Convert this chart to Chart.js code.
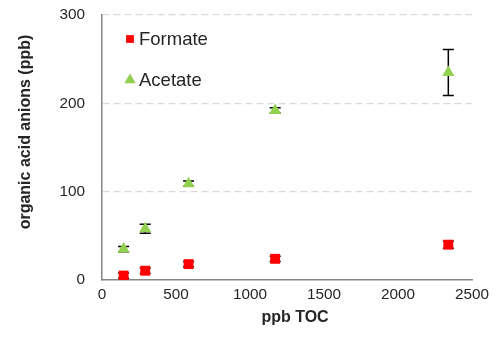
<!DOCTYPE html>
<html>
<head>
    <title>Organic acid anions vs TOC</title>
    <style>
        body {
            margin: 0;
            background: #fff;
        }
        #anionChart {
            display: block;
        }
    </style>
    <script src="https://cdn.jsdelivr.net/npm/chart.js"></script>
</head>
<body>
    <canvas id="anionChart" width="500" height="348"></canvas>

    <script>
        // ppb TOC for each sample
        const tocLevels = [146, 292, 585, 1170, 2340];

        // measured anions (ppb) and their standard deviations
        const formate = [5, 10.5, 18, 24, 40];
        const formateErr = [3, 3, 3, 3, 4];
        const acetate = [35, 58, 109, 192, 235];
        const acetateErr = [3, 5, 3, 3, 26];

        const xTicks = [0, 500, 1000, 1500, 2000, 2500];
        const yTicks = [0, 100, 200, 300];

        const fontFamily = '"Liberation Sans", Arial, sans-serif';
        const textColor = '#262626';

        function toPoints(values) {
            return tocLevels.map((x, i) => ({ x: x, y: values[i] }));
        }

        // Vertical error bars, drawn under the markers
        const errorBars = {
            id: 'errorBars',
            beforeDatasetsDraw(chart) {
                const ctx = chart.ctx;
                const xs = chart.scales.x;
                const ys = chart.scales.y;
                ctx.save();
                ctx.strokeStyle = '#000';
                ctx.lineWidth = 1.5;
                chart.data.datasets.forEach(ds => {
                    ds.data.forEach((p, i) => {
                        const err = ds.errors[i];
                        const px = xs.getPixelForValue(p.x);
                        const top = ys.getPixelForValue(p.y + err);
                        const bottom = ys.getPixelForValue(p.y - err);
                        ctx.beginPath();
                        ctx.moveTo(px, top);
                        ctx.lineTo(px, bottom);
                        ctx.moveTo(px - 5.5, top);
                        ctx.lineTo(px + 5.5, top);
                        ctx.moveTo(px - 5.5, bottom);
                        ctx.lineTo(px + 5.5, bottom);
                        ctx.stroke();
                    });
                });
                ctx.restore();
            }
        };

        // Legend inside the plot and the two axis titles
        const labels = {
            id: 'labels',
            afterDraw(chart) {
                const ctx = chart.ctx;
                const area = chart.chartArea;
                ctx.save();
                ctx.fillStyle = textColor;

                ctx.font = 'bold 16px ' + fontFamily;
                ctx.textAlign = 'center';
                ctx.textBaseline = 'alphabetic';
                ctx.fillText('ppb TOC', 295, 322);

                ctx.translate(30, 132);
                ctx.rotate(-Math.PI / 2);
                ctx.fillText('organic acid anions (ppb)', 0, 0);
                ctx.setTransform(1, 0, 0, 1, 0, 0);

                ctx.font = '18.5px ' + fontFamily;
                ctx.textAlign = 'left';
                ctx.textBaseline = 'middle';
                chart.data.datasets.forEach((ds, i) => {
                    const y = area.top + 24 + i * 41;
                    ctx.fillStyle = ds.backgroundColor;
                    Chart.helpers.drawPoint(ctx, {
                        pointStyle: ds.pointStyle,
                        radius: ds.legendRadius,
                        borderWidth: 0
                    }, area.left + 28, y);
                    ctx.fillStyle = textColor;
                    ctx.fillText(ds.label, area.left + 37, y + 1);
                });
                ctx.restore();
            }
        };

        const ctx = document.getElementById('anionChart').getContext('2d');
        const anionChart = new Chart(ctx, {
            type: 'scatter',
            data: {
                datasets: [{
                    label: 'Formate',
                    data: toPoints(formate),
                    errors: formateErr,
                    pointStyle: 'rect',
                    pointRadius: 7,
                    legendRadius: 5.5,
                    backgroundColor: '#ff0000',
                    borderColor: '#ff0000',
                    borderWidth: 0
                }, {
                    label: 'Acetate',
                    data: toPoints(acetate),
                    errors: acetateErr,
                    pointStyle: 'triangle',
                    pointRadius: 7,
                    legendRadius: 6.5,
                    backgroundColor: '#92d050',
                    borderColor: '#92d050',
                    borderWidth: 0
                }]
            },
            options: {
                responsive: false,
                animation: false,
                layout: {
                    padding: { top: 15, right: 28, left: 0, bottom: 0 }
                },
                plugins: {
                    legend: { display: false },
                    tooltip: { enabled: false }
                },
                scales: {
                    x: {
                        type: 'linear',
                        min: 0,
                        max: 2500,
                        afterFit: scale => {
                            scale.height = 68;
                            scale.paddingLeft = 0;
                            scale.paddingRight = 0;
                        },
                        afterBuildTicks: scale => {
                            scale.ticks = xTicks.map(v => ({ value: v }));
                        },
                        grid: { display: false, drawTicks: false },
                        border: { display: true, color: '#868686', width: 1.5 },
                        ticks: {
                            padding: 6,
                            color: textColor,
                            font: { family: fontFamily, size: 15.3 },
                            callback: v => String(v)
                        }
                    },
                    y: {
                        min: 0,
                        max: 300,
                        afterFit: scale => {
                            scale.width = 102;
                            scale.paddingTop = 0;
                            scale.paddingBottom = 0;
                        },
                        afterBuildTicks: scale => {
                            scale.ticks = yTicks.map(v => ({ value: v }));
                        },
                        grid: {
                            drawTicks: false,
                            color: ctx => ctx.tick && ctx.tick.value === 0 ? 'rgba(0,0,0,0)' : '#d9d9d9',
                            lineWidth: 1.3
                        },
                        border: { display: true, color: '#868686', width: 1.5, dash: [7, 4] },
                        ticks: {
                            padding: 17,
                            color: textColor,
                            font: { family: fontFamily, size: 15.3 },
                            callback: v => String(v)
                        }
                    }
                }
            },
            plugins: [errorBars, labels]
        });
    </script>
</body>
</html>
